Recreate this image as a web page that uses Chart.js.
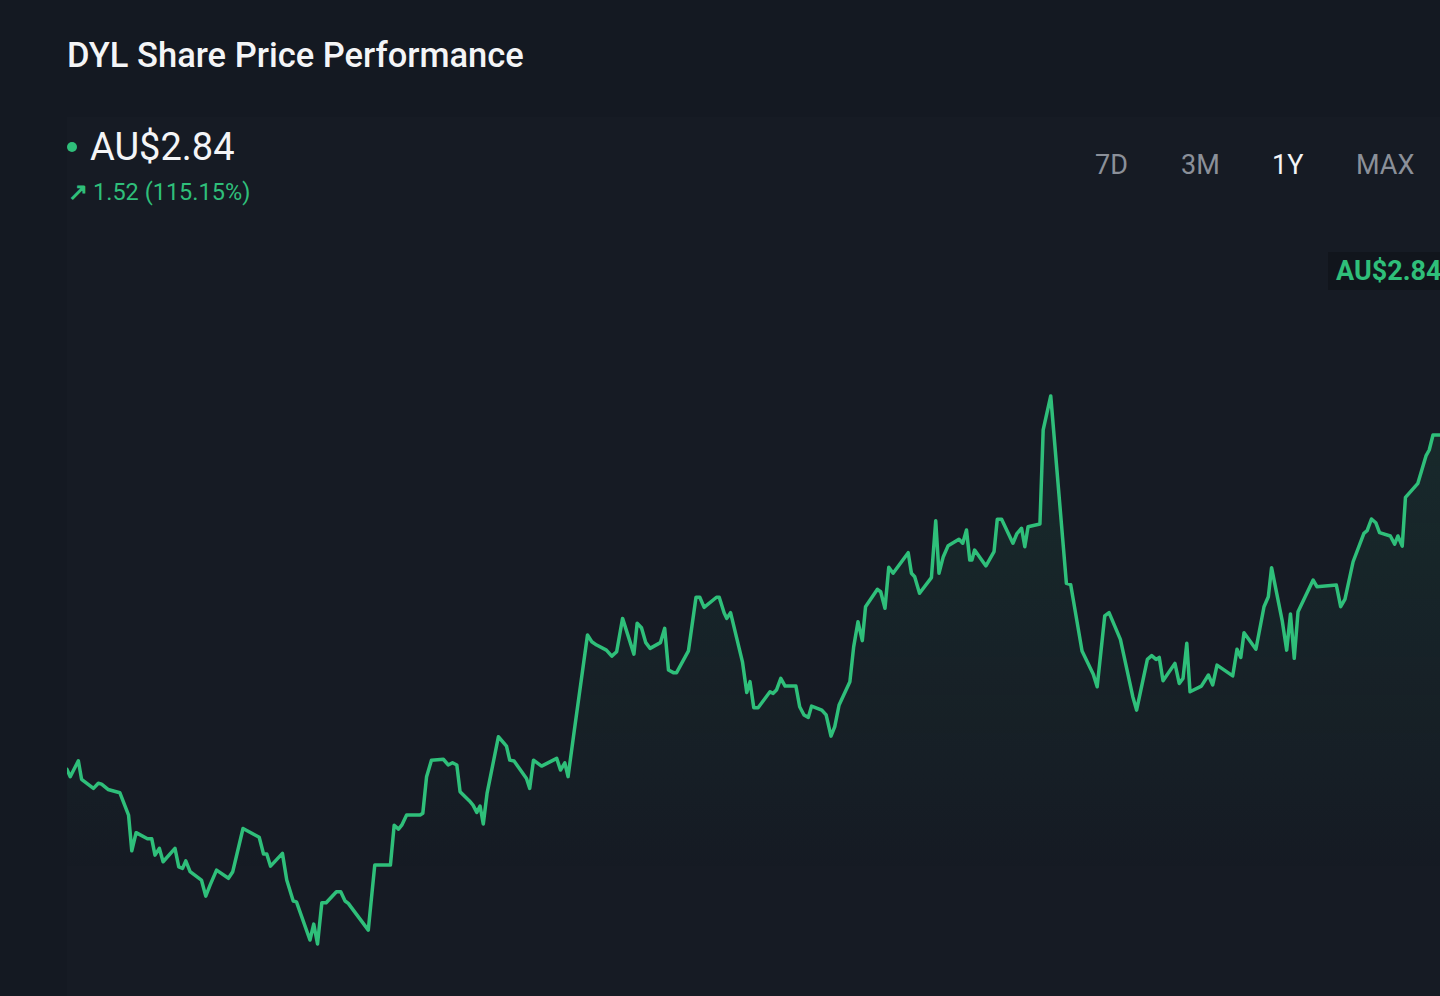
<!DOCTYPE html>
<html>
<head>
<meta charset="utf-8">
<script src="https://cdn.jsdelivr.net/npm/chart.js@4.4.1/dist/chart.umd.min.js"></script>
<style>
  html, body { margin: 0; padding: 0; }
  body {
    width: 1440px; height: 996px; overflow: hidden; position: relative;
    background: #141922; font-family: Roboto, "Noto Sans", sans-serif;
  }
  .title { position: absolute; left: 67px; top: 35px; color: #f4f5f7; font-size: 34.5px; font-weight: 500; white-space: nowrap; }
  .panel { position: absolute; left: 67px; top: 117px; right: 0; bottom: 0; background: #161b24; }
  .price { position: absolute; left: 90px; top: 125px; color: #f4f5f7; font-size: 38px; }
  .dot { position: absolute; left: 67px; top: 142px; width: 10px; height: 10px; border-radius: 50%; background: #2fbf7a; }
  .change { position: absolute; left: 68px; top: 178px; color: #2fbf7a; font-size: 23.5px; white-space: nowrap; }
  .change b { font-weight: 900; margin-right: 5px; }
  .ranges { position: absolute; top: 149px; left: 0; color: #8b9099; font-size: 27px; }
  .ranges span { position: absolute; white-space: nowrap; }
  .ranges .on { color: #f4f5f7; }
  .last { position: absolute; left: 1328px; top: 252px; padding: 3px 8px; background: #11151c; color: #2fbf7a; font-size: 27px; font-weight: 700; white-space: nowrap; }
  #wrap { position: absolute; left: 67px; top: 230px; width: 1393px; height: 766px; }
</style>
</head>
<body>
<div class="title">DYL Share Price Performance</div>
<div class="panel"></div>
<div class="dot"></div>
<div class="price">AU$2.84</div>
<div class="change"><b>&#8599;</b>1.52 (115.15%)</div>
<div class="ranges">
  <span style="left:1095px">7D</span>
  <span style="left:1181px">3M</span>
  <span class="on" style="left:1272px">1Y</span>
  <span style="left:1356px">MAX</span>
</div>
<div id="wrap"><canvas id="priceChart"></canvas></div>
<div class="last">AU$2.84</div>

<script>
// trading days since start of the 1Y window
const days = [
  0, 0.6, 2.1, 2.7, 4.9, 5.8, 6.4, 7.6, 9.8, 11.4, 12.0, 12.8, 14.9, 15.7, 16.3, 17.1, 17.8, 20.0, 20.7, 21.4,
  22.0, 22.8, 24.9, 25.7, 26.5, 27.7, 29.9, 30.7, 32.6, 35.6, 36.4, 37.0, 37.7, 39.9, 40.7, 41.9, 42.5, 45.0, 45.7, 46.4,
  47.2, 48.0, 49.9, 50.7, 51.5, 52.1, 55.8, 57.0, 59.9, 60.6, 61.4, 62.0, 62.9, 65.4, 65.9, 66.6, 67.5, 69.7, 70.6, 71.4,
  72.2, 72.8, 74.5, 75.2, 75.9, 76.5, 77.1, 77.8, 79.9, 81.4, 82.0, 82.8, 85.1, 85.7, 86.4, 87.9, 90.7, 91.4, 92.2, 92.8,
  93.8, 96.4, 97.2, 98.1, 99.9, 100.9, 101.8, 102.9, 105.0, 105.6, 106.4, 107.2, 108.0, 109.9, 110.7, 111.4, 112.3, 112.9, 115.1, 116.5,
  117.2, 118.0, 120.3, 120.8, 121.7, 122.2, 122.9, 125.1, 125.9, 126.5, 127.2, 128.0, 130.2, 130.8, 131.4, 132.2, 133.0, 135.0, 135.7, 136.5,
  137.3, 137.9, 139.8, 140.6, 141.5, 142.2, 143.0, 145.0, 145.7, 146.5, 147.3, 147.9, 150.1, 150.7, 151.5, 152.2, 153.0, 155.8, 156.4, 157.0,
  157.9, 160.1, 160.9, 161.5, 162.3, 163.2, 165.2, 165.9, 166.6, 167.2, 167.6, 168.1, 170.2, 171.7, 172.3, 173.1, 175.2, 175.9, 176.8, 177.4,
  178.0, 180.2, 180.8, 182.2, 185.1, 185.9, 188.0, 190.1, 190.8, 192.2, 193.0, 195.1, 197.4, 198.1, 200.1, 200.9, 201.7, 202.3, 203.0, 205.2,
  206.0, 206.7, 207.4, 208.0, 210.1, 211.4, 212.2, 213.0, 215.9, 216.7, 217.4, 218.0, 220.2, 221.7, 222.5, 223.1, 225.1, 225.9, 226.6, 227.3,
  228.0, 230.8, 231.5, 235.1, 235.9, 236.7, 238.2, 240.2, 240.8, 241.6, 242.4, 243.1, 245.1, 245.9, 246.5, 247.3, 247.9, 248.6, 250.2, 251.7,
  252.3, 253.0, 257.0
];

// close price, AU$
const prices = [
  1.323, 1.290, 1.362, 1.278, 1.237, 1.260, 1.256, 1.232, 1.217, 1.116, 0.954, 1.036, 1.008, 1.008, 0.934, 0.965, 0.904, 0.965, 0.881, 0.874,
  0.908, 0.859, 0.821, 0.748, 0.798, 0.866, 0.829, 0.859, 1.055, 1.015, 0.939, 0.939, 0.884, 0.942, 0.821, 0.726, 0.722, 0.549, 0.621, 0.531,
  0.718, 0.718, 0.768, 0.768, 0.726, 0.715, 0.594, 0.889, 0.889, 1.070, 1.052, 1.070, 1.116, 1.116, 1.124, 1.290, 1.365, 1.369, 1.343, 1.353,
  1.343, 1.222, 1.181, 1.161, 1.128, 1.157, 1.075, 1.214, 1.471, 1.429, 1.365, 1.361, 1.282, 1.237, 1.365, 1.338, 1.373, 1.320, 1.353, 1.290,
  1.471, 1.933, 1.902, 1.887, 1.864, 1.837, 1.857, 2.008, 1.846, 1.986, 1.966, 1.898, 1.872, 1.898, 1.963, 1.774, 1.762, 1.762, 1.861, 2.104,
  2.104, 2.058, 2.104, 2.104, 2.034, 2.008, 2.034, 1.811, 1.672, 1.721, 1.603, 1.603, 1.675, 1.668, 1.683, 1.736, 1.701, 1.701, 1.607, 1.570,
  1.559, 1.610, 1.592, 1.570, 1.474, 1.517, 1.615, 1.721, 1.879, 1.993, 1.907, 2.061, 2.140, 2.129, 2.054, 2.240, 2.213, 2.306, 2.213, 2.197,
  2.122, 2.193, 2.451, 2.213, 2.288, 2.338, 2.367, 2.349, 2.409, 2.273, 2.273, 2.318, 2.246, 2.311, 2.458, 2.458, 2.349, 2.391, 2.417, 2.333,
  2.424, 2.436, 2.863, 3.017, 2.167, 2.161, 1.860, 1.753, 1.698, 2.019, 2.034, 1.913, 1.653, 1.592, 1.822, 1.839, 1.822, 1.831, 1.725, 1.804,
  1.713, 1.736, 1.895, 1.675, 1.701, 1.751, 1.706, 1.796, 1.747, 1.868, 1.831, 1.943, 1.868, 2.061, 2.106, 2.238, 1.993, 1.864, 2.028, 1.827,
  2.038, 2.182, 2.152, 2.159, 2.061, 2.095, 2.265, 2.394, 2.406, 2.459, 2.442, 2.397, 2.382, 2.345, 2.382, 2.336, 2.557, 2.576, 2.621, 2.745,
  2.772, 2.840, 2.840
];

const lineColor = '#2fbf7a';

function fillGradient(context) {
  const area = context.chart.chartArea;
  if (!area) return 'rgba(47,191,122,0.08)';
  const g = context.chart.ctx.createLinearGradient(0, area.top + 150, 0, area.bottom - 120);
  g.addColorStop(0, 'rgba(47,191,122,0.10)');
  g.addColorStop(1, 'rgba(47,191,122,0)');
  return g;
}

new Chart(document.getElementById('priceChart'), {
  type: 'line',
  data: {
    datasets: [{
      data: days.map((d, i) => ({ x: d, y: prices[i] })),
      borderColor: lineColor,
      borderWidth: 3.5,
      borderJoinStyle: 'round',
      borderCapStyle: 'round',
      pointRadius: 0,
      tension: 0,
      fill: 'start',
      backgroundColor: fillGradient
    }]
  },
  options: {
    responsive: true,
    maintainAspectRatio: false,
    animation: false,
    layout: { padding: 0 },
    plugins: { legend: { display: false }, tooltip: { enabled: false } },
    scales: {
      x: { type: 'linear', min: 0, max: 258, display: false },
      y: { min: 0.295, max: 3.77, display: false }
    }
  }
});
</script>
</body>
</html>
